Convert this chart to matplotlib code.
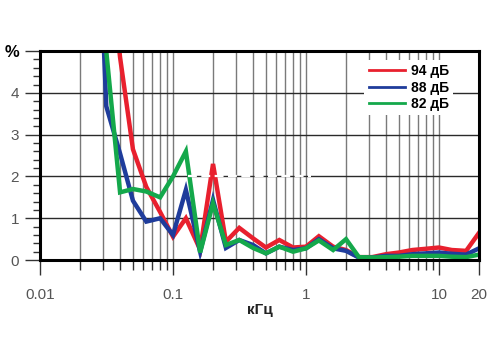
import matplotlib
matplotlib.use('Agg')

import numpy as np
import matplotlib.pyplot as plt
from matplotlib.ticker import FixedLocator, NullFormatter, MultipleLocator

# 1/3 octave frequencies (kHz)
freqs = [0.025, 0.0315, 0.04, 0.05, 0.063, 0.08, 0.1, 0.125, 0.16, 0.2,
         0.25, 0.315, 0.4, 0.5, 0.63, 0.8, 1, 1.25, 1.6, 2,
         2.5, 3.15, 4, 5, 6.3, 8, 10, 12.5, 16, 20]

# distortion, % for each level
thd_94 = [15, 8.0, 4.85, 2.65, 1.75, 1.15, 0.56, 1.0, 0.25, 2.3,
          0.44, 0.77, 0.52, 0.3, 0.48, 0.3, 0.32, 0.57, 0.32, 0.24,
          0.07, 0.07, 0.14, 0.18, 0.24, 0.27, 0.3, 0.24, 0.22, 0.65]
thd_88 = [11.5, 3.68, 2.55, 1.42, 0.92, 1.0, 0.6, 1.68, 0.2, 1.44,
          0.29, 0.48, 0.36, 0.16, 0.32, 0.24, 0.28, 0.5, 0.28, 0.22,
          0.06, 0.06, 0.1, 0.1, 0.14, 0.16, 0.18, 0.15, 0.13, 0.28]
thd_82 = [12, 5.0, 1.62, 1.7, 1.64, 1.5, 2.0, 2.6, 0.18, 1.36,
          0.36, 0.48, 0.29, 0.16, 0.32, 0.2, 0.28, 0.47, 0.24, 0.5,
          0.07, 0.06, 0.07, 0.08, 0.1, 0.1, 0.1, 0.08, 0.07, 0.13]

labels = ['94 дБ', '88 дБ', '82 дБ']
colors = ['#e8202e', '#1f3c9b', '#14a84b']

xticks = [0.01, 0.1, 1, 10, 20]
xticklabels = ['0.01', '0.1', '1', '10', '20']
yticks = [0, 1, 2, 3, 4, 5]
yticklabels = ['0', '1', '2', '3', '4', '%']

plt.rcParams['font.family'] = ['Liberation Sans', 'DejaVu Sans']

fig = plt.figure(figsize=(5, 3.5), dpi=100)
ax = fig.add_axes([0.08, 0.257, 0.878, 0.597])

# minor frequency positions: 2..9 in every decade
minors = [m * d for d in (0.01, 0.1, 1, 10) for m in range(2, 10) if m * d < 20]

# grid
for x in minors + xticks:
  ax.axvline(x, color='#7a7a7a', lw=1, zorder=1)
for y in yticks[1:-1]:
  ax.axhline(y, color='#2a2a2a', lw=1, zorder=1)

# curves
for vals, lab, col, z in zip([thd_94, thd_88, thd_82], labels, colors, [3, 4, 5]):
  ax.plot(freqs, vals, color=col, lw=3.2, label=lab, zorder=z,
          solid_joinstyle='miter')

# broken grid line artifact
ax.hlines(2, 0.13, 1.1, colors='white', linestyles=(0, (4, 2)), lw=1.6, zorder=6)

ax.set_xscale('log')
ax.set_xlim(0.01, 20)
ax.set_ylim(0, 5)

ax.xaxis.set_major_locator(FixedLocator(xticks))
ax.set_xticklabels(xticklabels)
ax.xaxis.set_minor_locator(FixedLocator(minors))
ax.xaxis.set_minor_formatter(NullFormatter())
ax.set_yticks(yticks)
ax.set_yticklabels(yticklabels)
ax.yaxis.set_minor_locator(MultipleLocator(0.2))

ax.tick_params(axis='both', which='both', direction='out', color='#333333',
               width=1, labelsize=11, labelcolor='#555555')
ax.tick_params(axis='x', which='major', length=11, pad=9)
ax.tick_params(axis='x', which='minor', length=7)
ax.tick_params(axis='y', which='major', length=11, pad=4)
ax.tick_params(axis='y', which='minor', length=5)

pct = ax.get_yticklabels()[-1]
pct.set_fontweight('bold')
pct.set_color('black')
pct.set_fontsize(12)

for s in ax.spines.values():
  s.set_linewidth(2.2)
  s.set_color('black')
  s.set_zorder(7)

ax.set_xlabel('кГц', fontsize=11, fontweight='bold', color='#222222', labelpad=1)

leg = ax.legend(loc='upper right', bbox_to_anchor=(0.957, 0.99), frameon=True,
                fancybox=False, edgecolor='none', facecolor='white', framealpha=1,
                handlelength=2.6, handletextpad=0.45, labelspacing=0.18,
                prop={'weight': 'bold', 'size': 10}, borderpad=0.3)
leg.set_zorder(8)
for line in leg.get_lines():
  line.set_linewidth(2)

plt.savefig('out.png', dpi=100)
